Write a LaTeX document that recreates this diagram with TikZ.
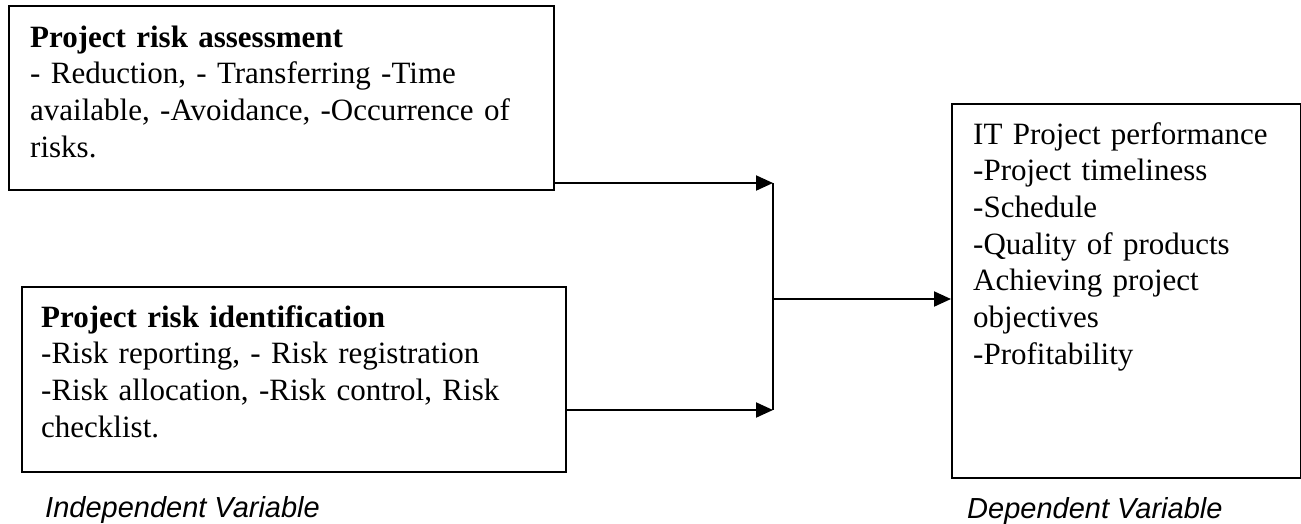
\documentclass[tikz,border=0pt]{standalone}
\usepackage{fontspec}
\setmainfont{Liberation Serif}
\newfontfamily\varfont{Liberation Sans}
\usetikzlibrary{arrows.meta}
\begin{document}
\begin{tikzpicture}[x=1pt,y=-1pt,
    box/.style={draw,line width=2pt,inner sep=0pt,anchor=north west},
    boxtext/.style={anchor=base west,inner sep=0pt,text width=#1,align=left,
      font=\fontsize{31}{36.7}\selectfont},
    varlabel/.style={anchor=base west,inner sep=0pt,
      font=\varfont\itshape\fontsize{29}{34}\selectfont},
    flow/.style={-{Triangle[length=17pt,width=15pt]},line width=2pt}]
  \useasboundingbox (0,0) rectangle (1301,523);
  \node[box,minimum width=545pt,minimum height=184pt] (assess) at (8,5) {};
  \node[box,minimum width=544pt,minimum height=185pt] (ident) at (21,286) {};
  \node[box,minimum width=349pt,minimum height=374pt] (perf) at (951,103) {};
  \node[boxtext=520pt] (assesstxt) at ([shift={(22,42)}]assess.north west)
    {\textbf{Project risk assessment}\\
     - Reduction, - Transferring -Time\\
     available, -Avoidance, -Occurrence of\\
     risks.};
  \node[boxtext=520pt] (identtxt) at ([shift={(20,41)}]ident.north west)
    {\textbf{Project risk identification}\\
     -Risk reporting, - Risk registration\\
     -Risk allocation, -Risk control, Risk\\
     checklist.};
  \node[boxtext=320pt] (perftxt) at ([shift={(22,41)}]perf.north west)
    {IT Project performance\\
     -Project timeliness\\
     -Schedule\\
     -Quality of products\\
     Achieving project\\
     objectives\\
     -Profitability};
  \node[varlabel] (indep) at (45,517) {Independent Variable};
  \node[varlabel] (dep) at (967,518) {Dependent Variable};
  \coordinate (jtop) at (773,183);
  \coordinate (jmid) at (773,299);
  \coordinate (jbot) at (773,410);
  \draw[flow] (assess.east |- jtop) -- (jtop);
  \draw[flow] (ident.east |- jbot) -- (jbot);
  \draw[line width=2pt] (jtop) -- (jbot);
  \draw[flow] (jmid) -- (perf.west |- jmid);
\end{tikzpicture}
\end{document}
